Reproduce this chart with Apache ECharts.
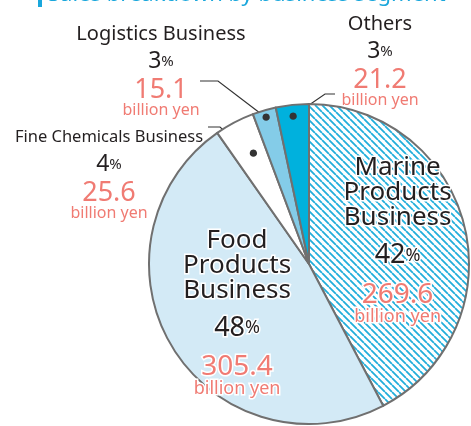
<!DOCTYPE html>
<html>
<head>
<meta charset="utf-8">
<style>
html,body{margin:0;padding:0;background:#fff;}
#chart{width:471px;height:426px;}
</style>
<script src="https://cdn.jsdelivr.net/npm/echarts@6/dist/echarts.min.js"></script>
</head>
<body>
<div id="chart"></div>
<script>
// ---- data ----
const categories = ['Marine Products Business', 'Food Products Business', 'Fine Chemicals Business', 'Logistics Business', 'Others'];
const displayNames = ['Marine\nProducts\nBusiness', 'Food\nProducts\nBusiness', 'Fine Chemicals Business', 'Logistics Business', 'Others'];
const salesValues = [269.6, 305.4, 25.6, 15.1, 21.2];   // billion yen
const percentLabels = [42, 48, 4, 3, 3];
const unitLabel = 'billion yen';
const titleText = 'Sales breakdown by business segment';

// ---- style / layout ----
const FONT = '"Noto Sans", "Open Sans", sans-serif';
const CX = 309, CY = 264, R = 160;
const SALMON = '#f07b73';
const TEXT = '#231f20';

function makeHatch() {
  const s = 7;
  const c = document.createElement('canvas');
  c.width = s; c.height = s;
  const g = c.getContext('2d');
  g.fillStyle = '#ffffff';
  g.fillRect(0, 0, s, s);
  g.strokeStyle = '#22aedb';
  g.lineWidth = 1.8;
  g.beginPath();
  [-s, 0, s].forEach(k => { g.moveTo(k, 0); g.lineTo(k + s, s); });
  g.stroke();
  return c;
}
const sliceColors = [{ image: makeHatch(), repeat: 'repeat' }, '#d3eaf6', '#ffffff', '#84cce8', '#00b1dd'];

const bigIdx = [0, 1];
const smallIdx = [2, 3, 4];
const bigOffset = { 0: [8, -4], 1: [-1, 5.5] };
const dotRadius = { 2: 123, 3: 152, 4: 149 };
const dotShift = { 2: [3, 1], 3: [0, 0], 4: [0, 4] };
const smallLayout = {
  2: { x: 109, y: 124, bend: [220, 127], end: [208, 127] },
  3: { x: 161, y: 21, bend: [218, 81], end: [200, 81] },
  4: { x: 380, y: 11, bend: [325, 94], end: [335, 94] }
};

function bigFormatter(p) {
  const i = p.dataIndex;
  const lines = displayNames[i].split('\n').map(s => '{name|' + s + '}');
  return lines.join('\n') + '\n{pct|' + percentLabels[i] + '}{sign|%}\n{val|' + salesValues[i] + '}\n{unit|' + unitLabel + '}';
}
function smallFormatter(p) {
  const i = p.dataIndex;
  const nm = i === 2 ? 'nameC' : 'name';
  return '{' + nm + '|' + displayNames[i] + '}\n{pct|' + percentLabels[i] + '}{sign|%}\n{val|' + salesValues[i] + '}\n{unit|' + unitLabel + '}';
}

const bigRich = {
  name: { fontFamily: FONT, fontSize: 26, lineHeight: 25, color: TEXT },
  pct: { fontFamily: FONT, fontSize: 27, lineHeight: 51, color: TEXT },
  sign: { fontFamily: FONT, fontSize: 18, lineHeight: 51, color: TEXT },
  val: { fontFamily: FONT, fontSize: 28, lineHeight: 27, color: SALMON },
  unit: { fontFamily: FONT, fontSize: 18, lineHeight: 17, color: SALMON }
};
const smallRich = {
  name: { fontFamily: FONT, fontSize: 20, lineHeight: 27, color: TEXT },
  nameC: { fontFamily: FONT, fontSize: 16.5, lineHeight: 27, color: TEXT },
  pct: { fontFamily: FONT, fontSize: 23, lineHeight: 27, color: TEXT },
  sign: { fontFamily: FONT, fontSize: 15, lineHeight: 27, color: TEXT },
  val: { fontFamily: FONT, fontSize: 27, lineHeight: 30, color: SALMON },
  unit: { fontFamily: FONT, fontSize: 16, lineHeight: 10, color: SALMON }
};

function mkData(labelFor, lineFor) {
  return categories.map((n, i) => ({
    name: n,
    value: salesValues[i],
    label: { show: labelFor(i) },
    labelLine: { show: lineFor(i) }
  }));
}

const baseOverlay = {
  type: 'pie', center: [CX, CY], silent: true, startAngle: 90, clockwise: true,
  avoidLabelOverlap: false, animation: false,
  itemStyle: { color: 'transparent', borderWidth: 0 },
  emphasis: { disabled: true }
};
function dotLayout(p) {
  const s = dotShift[p.dataIndex];
  return s ? { dx: s[0], dy: s[1] } : {};
}

const chart = echarts.init(document.getElementById('chart'), null, { renderer: 'canvas' });
chart.setOption({
  backgroundColor: '#ffffff',
  animation: false,
  title: {
    text: '{bar| }{t|' + titleText + '}',
    left: 33, top: -22,
    textStyle: {
      fontWeight: 'normal',
      rich: {
        bar: { width: 4, height: 24, backgroundColor: '#1aa7dc' },
        t: { fontFamily: FONT, fontSize: 22, fontWeight: 'normal', color: '#1aa7dc', padding: [0, 0, 0, 6] }
      }
    }
  },
  series: [
    {
      type: 'pie', center: [CX, CY], radius: R, startAngle: 90, clockwise: true,
      silent: true, avoidLabelOverlap: false, animation: false,
      emphasis: { disabled: true },
      itemStyle: { borderColor: '#707070', borderWidth: 2 },
      data: categories.map((n, i) => ({
        name: n, value: salesValues[i],
        itemStyle: { color: sliceColors[i] },
        label: { show: bigIdx.includes(i) }
      })),
      label: {
        position: 'inside', formatter: bigFormatter, rich: bigRich,
        align: 'center', textBorderColor: '#ffffff', textBorderWidth: 3
      },
      labelLine: { show: false },
      labelLayout: function (p) {
        const o = bigOffset[p.dataIndex];
        return o ? { dx: o[0], dy: o[1] } : {};
      }
    },
    Object.assign({}, baseOverlay, {
      radius: [140, R],
      data: mkData(i => i === 3 || i === 4, () => false),
      label: { position: 'inside', formatter: '●', fontSize: 17, color: '#333333' },
      labelLine: { show: false },
      labelLayout: dotLayout
    }),
    Object.assign({}, baseOverlay, {
      radius: [86, R],
      data: mkData(i => i === 2, () => false),
      label: { position: 'inside', formatter: '●', fontSize: 17, color: '#333333' },
      labelLine: { show: false },
      labelLayout: dotLayout
    }),
    Object.assign({}, baseOverlay, {
      radius: R,
      data: mkData(i => smallIdx.includes(i), i => smallIdx.includes(i)),
      label: { position: 'outside', formatter: smallFormatter, rich: smallRich, align: 'center' },
      labelLine: { show: true, length: 10, length2: 10, lineStyle: { color: '#333333', width: 1.2 } },
      labelLayout: function (p) {
        const i = p.dataIndex;
        const L = smallLayout[i];
        if (!L) return {};
        const out = { x: L.x, y: L.y, align: 'center', verticalAlign: 'top' };
        if (p.labelLinePoints && p.labelLinePoints[0]) {
          const p0 = p.labelLinePoints[0];
          const k = dotRadius[i] / R;
          const d = [CX + (p0[0] - CX) * k, CY + (p0[1] - CY) * k];
          out.labelLinePoints = [d, L.bend, L.end];
        }
        return out;
      }
    })
  ]
});
</script>
</body>
</html>
